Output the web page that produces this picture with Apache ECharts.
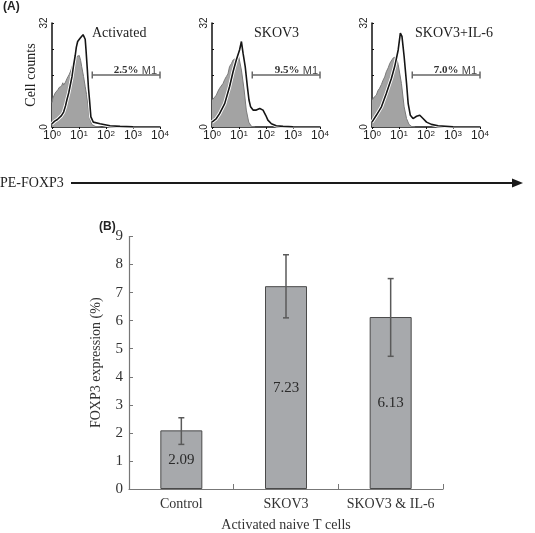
<!DOCTYPE html>
<html><head><meta charset="utf-8">
<script src="https://cdn.jsdelivr.net/npm/echarts@6/dist/echarts.min.js"></script>
<style>html,body{margin:0;padding:0;background:#fff}#c{width:535px;height:533px}</style>
</head><body><div id="c"></div>
<script>
// ---------- Panel A: flow cytometry histograms ----------
const histTitles = ['Activated', 'SKOV3', 'SKOV3+IL-6'];
const m1Percent = ['2.5%', '9.5%', '7.0%'];
const m1Range = [31, 10000];
const m1Level = 16;
const histTicks = [1, 10, 100, 1000, 10000];
// [log10 fluorescence, cell count]
const gray1 = [[0,7.5],[0.03,8.8],[0.08,9.2],[0.12,10.5],[0.17,10.2],[0.22,11.5],[0.27,12.2],[0.3,11.8],[0.35,12.5],[0.4,13.6],[0.43,12.9],[0.5,13.8],[0.55,14.8],[0.6,14.4],[0.64,16.2],[0.69,17.2],[0.74,18.5],[0.8,20],[0.86,20.6],[0.92,21.7],[0.97,21.5],[1.01,22],[1.06,20.5],[1.1,18.6],[1.17,15.5],[1.23,12.4],[1.28,10],[1.31,8.3],[1.35,5.5],[1.39,3.1],[1.47,0.8],[1.6,0.2],[1.8,0]];
const black1 = [[0,1.0],[0.1,1.8],[0.2,2.3],[0.25,2.6],[0.35,3.5],[0.43,4.6],[0.5,6.5],[0.55,8.3],[0.62,10.5],[0.68,13],[0.74,15.5],[0.8,19],[0.86,22],[0.9,24.5],[0.95,26.3],[1.0,26.8],[1.04,27.3],[1.1,27.8],[1.15,28.4],[1.2,29],[1.23,27],[1.26,23.7],[1.31,17.5],[1.35,12],[1.39,8.3],[1.44,3.1],[1.53,1.5],[1.78,1.0],[2.15,0.4],[2.52,0.2],[3.0,0.05],[4,0]];
const gray2 = [[0,8.3],[0.08,9],[0.16,9.8],[0.22,11],[0.28,11.9],[0.34,12.2],[0.41,13.4],[0.47,14.6],[0.53,15.5],[0.59,16.3],[0.65,18.6],[0.72,19.5],[0.78,20.6],[0.84,20.2],[0.9,21.2],[0.99,21.7],[1.09,17.5],[1.19,11.4],[1.27,5.2],[1.36,1.5],[1.46,0.2],[1.6,0]];
const black2 = [[0,1.5],[0.16,2.6],[0.28,4.1],[0.47,7.2],[0.65,12.4],[0.78,17],[0.9,20.6],[1.02,23.7],[1.09,26.3],[1.15,22.7],[1.23,18.6],[1.31,12.4],[1.37,8.3],[1.43,6.2],[1.52,5.2],[1.64,5.2],[1.77,5.7],[1.89,5.2],[1.99,3.6],[2.07,2.1],[2.2,1.0],[2.38,0.4],[2.63,0.2],[3.0,0.05],[4,0]];
const gray3 = [[0,8.3],[0.08,9.2],[0.16,9.8],[0.22,11.2],[0.28,11.9],[0.35,13.1],[0.41,14.4],[0.47,15.4],[0.53,17],[0.6,18.2],[0.66,19.6],[0.72,20.1],[0.78,21.2],[0.9,21.7],[0.97,19.2],[1.09,13.4],[1.19,6.2],[1.28,2.6],[1.37,0.8],[1.46,0.2],[1.6,0]];
const black3 = [[0,1.5],[0.16,3.6],[0.35,6.2],[0.53,10.3],[0.72,15],[0.84,18.6],[0.97,23.7],[1.05,28.9],[1.11,27.9],[1.19,21.7],[1.28,13.4],[1.34,7.2],[1.42,3.6],[1.52,2.6],[1.65,3.3],[1.77,3.6],[1.89,2.6],[2.02,1.5],[2.2,0.8],[2.45,0.4],[3.0,0.05],[4,0]];

// ---------- Panel B: bar chart ----------
const categories = ['Control', 'SKOV3', 'SKOV3 & IL-6'];
const foxp3 = [2.09, 7.23, 6.13];
const errLow = [1.59, 6.10, 4.73];
const errHigh = [2.54, 8.35, 7.50];
const yTicks = [0, 9, 1];

const SERIF = 'Liberation Serif';
const SANS = 'Liberation Sans';
const grays = [gray1, gray2, gray3];
const blacks = [black1, black2, black3];
const toXY = d => d.map(p => [Math.pow(10, p[0]), p[1]]);
const histLefts = [52, 212, 372];

const grid = histLefts.map(l => ({left: l, top: 23, width: 108, height: 104}));
grid.push({left: 129, top: 236.5, width: 314, height: 253.3});

const xAxis = histLefts.map((l, i) => ({
  gridIndex: i, type: 'log', logBase: 10, min: histTicks[0], max: histTicks[histTicks.length - 1],
  axisLine: {lineStyle: {color: '#111', width: 1.5}},
  axisTick: {show: true, length: 2, lineStyle: {color: '#111'}},
  splitLine: {show: false}, minorTick: {show: false},
  axisLabel: {
    margin: 3, color: '#222', fontFamily: SANS, fontSize: 12,
    formatter: v => '10{s|' + Math.round(Math.log10(v)) + '}',
    rich: {s: {fontSize: 8, fontFamily: SANS, color: '#222', verticalAlign: 'top', lineHeight: 8}}
  }
}));
xAxis.push({
  gridIndex: 3, type: 'category', data: categories,
  name: 'Activated naive T cells', nameLocation: 'middle', nameGap: 29,
  nameTextStyle: {fontFamily: SERIF, fontSize: 14, color: '#333'},
  axisLine: {lineStyle: {color: '#777', width: 1.2}},
  axisTick: {show: true, inside: true, length: 5, lineStyle: {color: '#777'}},
  axisLabel: {interval: 0, margin: 8, fontFamily: SERIF, fontSize: 14, color: '#333'}
});

const yAxis = histLefts.map((l, i) => ({
  gridIndex: i, type: 'value', min: 0, max: 32, interval: 8,
  name: i === 0 ? 'Cell counts' : '', nameLocation: 'middle', nameGap: 13,
  nameTextStyle: {fontFamily: SERIF, fontSize: 14, color: '#222'},
  axisLine: {show: true, lineStyle: {color: '#111', width: 1.5}},
  axisTick: {show: true, inside: true, length: 2, lineStyle: {color: '#111'}},
  splitLine: {show: false},
  axisLabel: {margin: 3, rotate: 90, fontFamily: SANS, fontSize: 10, color: '#222',
    formatter: v => (v === 0 || v === 32) ? String(v) : ''}
}));
yAxis.push({
  gridIndex: 3, type: 'value', min: yTicks[0], max: yTicks[1], interval: yTicks[2],
  name: 'FOXP3 expression (%)', nameLocation: 'middle', nameGap: 26,
  nameTextStyle: {fontFamily: SERIF, fontSize: 14, color: '#333'},
  axisLine: {show: true, lineStyle: {color: '#777', width: 1.2}},
  axisTick: {show: true, inside: true, length: 4, lineStyle: {color: '#777'}},
  splitLine: {show: false},
  axisLabel: {margin: 6, fontFamily: SERIF, fontSize: 15, color: '#333'}
});

const series = [];
for (let i = 0; i < 3; i++) {
  series.push({type: 'line', xAxisIndex: i, yAxisIndex: i, data: toXY(grays[i]), symbol: 'none',
    lineStyle: {color: '#7a7a7a', width: 1}, areaStyle: {color: '#a3a3a3', opacity: 1}, silent: true, z: 2});
  series.push({type: 'line', xAxisIndex: i, yAxisIndex: i, data: toXY(blacks[i]), symbol: 'none',
    lineStyle: {color: '#ffffff', width: 3.5}, silent: true, z: 3});
  series.push({type: 'line', xAxisIndex: i, yAxisIndex: i, data: toXY(blacks[i]), symbol: 'none',
    lineStyle: {color: '#151515', width: 1.6}, silent: true, z: 4});
  series.push({type: 'line', xAxisIndex: i, yAxisIndex: i,
    data: [[m1Range[0], m1Level], [m1Range[1], m1Level]],
    symbol: 'rect', symbolSize: [1.5, 7], itemStyle: {color: '#666'},
    lineStyle: {color: '#666', width: 1.5}, silent: true, z: 5});
}
series.push({
  type: 'bar', xAxisIndex: 3, yAxisIndex: 3, data: foxp3, barWidth: 42,
  itemStyle: {color: '#a7a9ac', borderColor: '#4a4a4a', borderWidth: 1},
  label: {show: true, position: 'inside', fontFamily: SERIF, fontSize: 15, color: '#2a2a2a',
    formatter: p => p.value.toFixed(2)}
});
series.push({
  type: 'custom', xAxisIndex: 3, yAxisIndex: 3,
  data: categories.map((c, i) => [i, errLow[i], errHigh[i]]),
  encode: {x: 0, y: [1, 2]}, z: 10,
  renderItem: (params, api) => {
    const x = api.value(0);
    const lo = api.coord([x, api.value(1)]);
    const hi = api.coord([x, api.value(2)]);
    const w = 3;
    const st = {stroke: '#5a5a5a', lineWidth: 1.5};
    return {type: 'group', children: [
      {type: 'line', shape: {x1: lo[0], y1: lo[1], x2: hi[0], y2: hi[1]}, style: st},
      {type: 'line', shape: {x1: lo[0] - w, y1: lo[1], x2: lo[0] + w, y2: lo[1]}, style: st},
      {type: 'line', shape: {x1: hi[0] - w, y1: hi[1], x2: hi[0] + w, y2: hi[1]}, style: st}
    ]};
  }
});

const graphic = [
  {type: 'text', left: 3, top: 1, style: {text: '(A)', font: 'bold 12px ' + SANS, fill: '#222'}},
  {type: 'text', left: 99, top: 221, style: {text: '(B)', font: 'bold 12px ' + SANS, fill: '#222'}},
  {type: 'text', x: 92, y: 33, style: {text: histTitles[0], font: '14px ' + SERIF, fill: '#222', textVerticalAlign: 'middle'}},
  {type: 'text', x: 254, y: 33, style: {text: histTitles[1], font: '14px ' + SERIF, fill: '#222', textVerticalAlign: 'middle'}},
  {type: 'text', x: 415, y: 33, style: {text: histTitles[2], font: '14px ' + SERIF, fill: '#222', textVerticalAlign: 'middle'}},
  {type: 'text', x: 0, y: 183, style: {text: 'PE-FOXP3', font: '14px ' + SERIF, fill: '#222', textVerticalAlign: 'middle'}},
  {type: 'line', shape: {x1: 71, y1: 183, x2: 514, y2: 183}, style: {stroke: '#1a1a1a', lineWidth: 2}},
  {type: 'polygon', shape: {points: [[512, 178.5], [523, 183], [512, 187.5]]}, style: {fill: '#1a1a1a'}}
];
const m1Right = [157, 318, 477];
for (let i = 0; i < 3; i++) {
  graphic.push({type: 'text', x: m1Right[i], y: 70.5, style: {
    text: '{p|' + m1Percent[i] + '} {m|M1}', textAlign: 'right', textVerticalAlign: 'middle',
    rich: {p: {font: 'bold 11px ' + SERIF, fill: '#333'}, m: {font: '11px ' + SANS, fill: '#444'}}
  }});
}

const chart = echarts.init(document.getElementById('c'), null, {renderer: 'canvas'});
chart.setOption({backgroundColor: '#fff', animation: false, grid, xAxis, yAxis, series, graphic});
</script></body></html>
